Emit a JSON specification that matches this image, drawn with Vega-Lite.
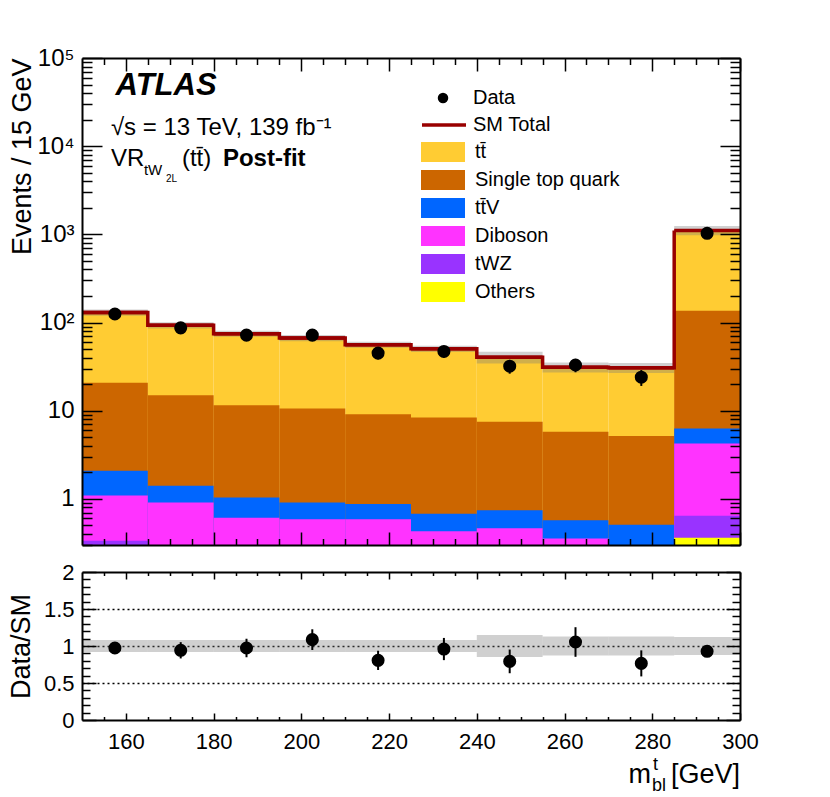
{
 "$schema": "https://vega.github.io/schema/vega-lite/v6.json",
 "background": "white",
 "padding": {"left": 7, "top": 46, "right": 5, "bottom": 2},
 "datasets": {
  "bins": [
   {"xlo": 150, "xhi": 165, "xc": 157.5, "total": 130, "smlo": 119.6, "smhi": 140.4, "data": 125, "derr": 11.2, "ratio": 0.973, "rerr": 0.08, "rlo": 0.92, "rhi": 1.08},
   {"xlo": 165, "xhi": 180, "xc": 172.5, "total": 93.3, "smlo": 85.8, "smhi": 100.8, "data": 87, "derr": 9.3, "ratio": 0.942, "rerr": 0.11, "rlo": 0.92, "rhi": 1.08},
   {"xlo": 180, "xhi": 195, "xc": 187.5, "total": 74.8, "smlo": 68.8, "smhi": 80.8, "data": 72, "derr": 8.5, "ratio": 0.973, "rerr": 0.125, "rlo": 0.92, "rhi": 1.08},
   {"xlo": 195, "xhi": 210, "xc": 202.5, "total": 66.9, "smlo": 61.5, "smhi": 72.3, "data": 72, "derr": 8.5, "ratio": 1.086, "rerr": 0.14, "rlo": 0.92, "rhi": 1.08},
   {"xlo": 210, "xhi": 225, "xc": 217.5, "total": 56.1, "smlo": 51.6, "smhi": 60.6, "data": 45, "derr": 6.7, "ratio": 0.806, "rerr": 0.13, "rlo": 0.92, "rhi": 1.08},
   {"xlo": 225, "xhi": 240, "xc": 232.5, "total": 50.4, "smlo": 46.4, "smhi": 54.4, "data": 47, "derr": 6.9, "ratio": 0.959, "rerr": 0.15, "rlo": 0.92, "rhi": 1.08},
   {"xlo": 240, "xhi": 255, "xc": 247.5, "total": 40.5, "smlo": 34.4, "smhi": 46.6, "data": 32, "derr": 5.7, "ratio": 0.792, "rerr": 0.16, "rlo": 0.85, "rhi": 1.15},
   {"xlo": 255, "xhi": 270, "xc": 262.5, "total": 31.2, "smlo": 27.1, "smhi": 35.3, "data": 33, "derr": 5.7, "ratio": 1.054, "rerr": 0.2, "rlo": 0.87, "rhi": 1.13},
   {"xlo": 270, "xhi": 285, "xc": 277.5, "total": 30.8, "smlo": 26.8, "smhi": 34.8, "data": 24, "derr": 4.9, "ratio": 0.765, "rerr": 0.176, "rlo": 0.87, "rhi": 1.13},
   {"xlo": 285, "xhi": 300, "xc": 292.5, "total": 1108, "smlo": 975, "smhi": 1241, "data": 1027, "derr": 32, "ratio": 0.928, "rerr": 0.03, "rlo": 0.88, "rhi": 1.12}
  ],
  "yields": [
   {"xlo": 150, "xhi": 165, "process": "Others", "k": 1, "n": 0.02},
   {"xlo": 150, "xhi": 165, "process": "tWZ", "k": 2, "n": 0.315},
   {"xlo": 150, "xhi": 165, "process": "Diboson", "k": 3, "n": 0.755},
   {"xlo": 150, "xhi": 165, "process": "tt\u0304V", "k": 4, "n": 1.0},
   {"xlo": 150, "xhi": 165, "process": "Single top quark", "k": 5, "n": 18.7},
   {"xlo": 150, "xhi": 165, "process": "tt\u0304", "k": 6, "n": 109.2},
   {"xlo": 165, "xhi": 180, "process": "Others", "k": 1, "n": 0.02},
   {"xlo": 165, "xhi": 180, "process": "tWZ", "k": 2, "n": 0.05},
   {"xlo": 165, "xhi": 180, "process": "Diboson", "k": 3, "n": 0.84},
   {"xlo": 165, "xhi": 180, "process": "tt\u0304V", "k": 4, "n": 0.5},
   {"xlo": 165, "xhi": 180, "process": "Single top quark", "k": 5, "n": 13.59},
   {"xlo": 165, "xhi": 180, "process": "tt\u0304", "k": 6, "n": 78.3},
   {"xlo": 180, "xhi": 195, "process": "Others", "k": 1, "n": 0.02},
   {"xlo": 180, "xhi": 195, "process": "tWZ", "k": 2, "n": 0.05},
   {"xlo": 180, "xhi": 195, "process": "Diboson", "k": 3, "n": 0.54},
   {"xlo": 180, "xhi": 195, "process": "tt\u0304V", "k": 4, "n": 0.43},
   {"xlo": 180, "xhi": 195, "process": "Single top quark", "k": 5, "n": 10.46},
   {"xlo": 180, "xhi": 195, "process": "tt\u0304", "k": 6, "n": 63.3},
   {"xlo": 195, "xhi": 210, "process": "Others", "k": 1, "n": 0.02},
   {"xlo": 195, "xhi": 210, "process": "tWZ", "k": 2, "n": 0.05},
   {"xlo": 195, "xhi": 210, "process": "Diboson", "k": 3, "n": 0.516},
   {"xlo": 195, "xhi": 210, "process": "tt\u0304V", "k": 4, "n": 0.324},
   {"xlo": 195, "xhi": 210, "process": "Single top quark", "k": 5, "n": 9.69},
   {"xlo": 195, "xhi": 210, "process": "tt\u0304", "k": 6, "n": 56.3},
   {"xlo": 210, "xhi": 225, "process": "Others", "k": 1, "n": 0.02},
   {"xlo": 210, "xhi": 225, "process": "tWZ", "k": 2, "n": 0.05},
   {"xlo": 210, "xhi": 225, "process": "Diboson", "k": 3, "n": 0.516},
   {"xlo": 210, "xhi": 225, "process": "tt\u0304V", "k": 4, "n": 0.291},
   {"xlo": 210, "xhi": 225, "process": "Single top quark", "k": 5, "n": 8.22},
   {"xlo": 210, "xhi": 225, "process": "tt\u0304", "k": 6, "n": 47.0},
   {"xlo": 225, "xhi": 240, "process": "Others", "k": 1, "n": 0.02},
   {"xlo": 225, "xhi": 240, "process": "tWZ", "k": 2, "n": 0.05},
   {"xlo": 225, "xhi": 240, "process": "Diboson", "k": 3, "n": 0.36},
   {"xlo": 225, "xhi": 240, "process": "tt\u0304V", "k": 4, "n": 0.25},
   {"xlo": 225, "xhi": 240, "process": "Single top quark", "k": 5, "n": 7.68},
   {"xlo": 225, "xhi": 240, "process": "tt\u0304", "k": 6, "n": 42.0},
   {"xlo": 240, "xhi": 255, "process": "Others", "k": 1, "n": 0.02},
   {"xlo": 240, "xhi": 255, "process": "tWZ", "k": 2, "n": 0.05},
   {"xlo": 240, "xhi": 255, "process": "Diboson", "k": 3, "n": 0.396},
   {"xlo": 240, "xhi": 255, "process": "tt\u0304V", "k": 4, "n": 0.277},
   {"xlo": 240, "xhi": 255, "process": "Single top quark", "k": 5, "n": 6.73},
   {"xlo": 240, "xhi": 255, "process": "tt\u0304", "k": 6, "n": 33.0},
   {"xlo": 255, "xhi": 270, "process": "Others", "k": 1, "n": 0.02},
   {"xlo": 255, "xhi": 270, "process": "tWZ", "k": 2, "n": 0.05},
   {"xlo": 255, "xhi": 270, "process": "Diboson", "k": 3, "n": 0.286},
   {"xlo": 255, "xhi": 270, "process": "tt\u0304V", "k": 4, "n": 0.215},
   {"xlo": 255, "xhi": 270, "process": "Single top quark", "k": 5, "n": 5.21},
   {"xlo": 255, "xhi": 270, "process": "tt\u0304", "k": 6, "n": 25.4},
   {"xlo": 270, "xhi": 285, "process": "Others", "k": 1, "n": 0.02},
   {"xlo": 270, "xhi": 285, "process": "tWZ", "k": 2, "n": 0.05},
   {"xlo": 270, "xhi": 285, "process": "Diboson", "k": 3, "n": 0.15},
   {"xlo": 270, "xhi": 285, "process": "tt\u0304V", "k": 4, "n": 0.289},
   {"xlo": 270, "xhi": 285, "process": "Single top quark", "k": 5, "n": 4.66},
   {"xlo": 270, "xhi": 285, "process": "tt\u0304", "k": 6, "n": 25.6},
   {"xlo": 285, "xhi": 300, "process": "Others", "k": 1, "n": 0.362},
   {"xlo": 285, "xhi": 300, "process": "tWZ", "k": 2, "n": 0.284},
   {"xlo": 285, "xhi": 300, "process": "Diboson", "k": 3, "n": 3.6},
   {"xlo": 285, "xhi": 300, "process": "tt\u0304V", "k": 4, "n": 2.05},
   {"xlo": 285, "xhi": 300, "process": "Single top quark", "k": 5, "n": 129.7},
   {"xlo": 285, "xhi": 300, "process": "tt\u0304", "k": 6, "n": 972}
  ]
 },
 "spacing": 15,
 "vconcat": [
  {
   "width": 658,
   "height": 487,
   "resolve": {"axis": {"x": "independent", "y": "independent"}},
   "layer": [
    {
     "data": {"name": "yields"},
     "transform": [{"stack": "n", "groupby": ["xlo"], "sort": [{"field": "k", "order": "ascending"}], "as": ["s0", "s1"]}],
     "mark": {"type": "bar", "opacity": 1, "clip": true},
     "encoding": {
      "x": {"field": "xlo", "type": "quantitative", "scale": {"domain": [150, 300], "nice": false, "zero": false},
       "axis": {"orient": "bottom", "values": [160, 180, 200, 220, 240, 260, 280, 300], "labels": false, "tickSize": -13, "domain": true, "title": null, "zindex": 1}},
      "x2": {"field": "xhi"},
      "y": {"field": "s1", "type": "quantitative", "stack": null, "scale": {"type": "log", "domain": [0.3, 100000], "nice": false},
       "axis": {"orient": "left", "values": [1, 10, 100, 1000, 10000, 100000], "ticks": false, "domain": false,
        "labelExpr": "datum.value > 99999 ? '10\u2075' : datum.value > 9999 ? '10\u2074' : datum.value > 999 ? '10\u00b3' : datum.value > 99 ? '10\u00b2' : datum.value > 9 ? '10' : '1'",
        "labelFontSize": 24, "labelPadding": 8, "title": "Events / 15 GeV", "titleFontSize": 27, "titleAnchor": "end", "titlePadding": 0, "zindex": 1}},
      "y2": {"datum": 0.3},
      "color": {"field": "process", "type": "nominal",
       "scale": {"domain": ["tt\u0304", "Single top quark", "tt\u0304V", "Diboson", "tWZ", "Others"],
        "range": ["#ffcc33", "#cc6600", "#0066ff", "#ff33ff", "#9933ff", "#ffff00"]},
       "legend": {"title": null, "orient": "none", "legendX": 339, "legendY": 83, "direction": "vertical",
        "symbolType": "M-1,-0.9H3V0.9H-1Z", "symbolSize": 484, "symbolStrokeWidth": 0, "symbolOpacity": 1,
        "labelFontSize": 20, "labelColor": "black", "labelOffset": 32, "rowPadding": 7, "labelLimit": 300}},
      "order": {"field": "k", "sort": "descending"}
     }
    },
    {
     "data": {"name": "bins"},
     "mark": {"type": "rect", "color": "#777777", "opacity": 0.35},
     "encoding": {
      "x": {"field": "xlo", "type": "quantitative", "scale": {"domain": [150, 300], "nice": false, "zero": false},
       "axis": {"orient": "bottom", "values": [155, 165, 170, 175, 185, 190, 195, 205, 210, 215, 225, 230, 235, 245, 250, 255, 265, 270, 275, 285, 290, 295], "labels": false, "tickSize": -6.5, "domain": false, "title": null, "zindex": 1}},
      "x2": {"field": "xhi"},
      "y": {"field": "smlo", "type": "quantitative", "scale": {"type": "log", "domain": [0.3, 100000], "nice": false},
       "axis": {"orient": "left", "values": [1, 10, 100, 1000, 10000, 100000], "labels": false, "tickSize": -20, "domain": true, "title": null, "zindex": 1}},
      "y2": {"field": "smhi"}
     }
    },
    {
     "data": {"name": "bins"},
     "mark": {"type": "rule", "color": "#990000", "strokeWidth": 3.5},
     "encoding": {
      "x": {"field": "xlo", "type": "quantitative", "scale": {"domain": [150, 300], "nice": false, "zero": false},
       "axis": {"orient": "top", "values": [160, 180, 200, 220, 240, 260, 280, 300], "labels": false, "tickSize": -13, "domain": true, "title": null, "zindex": 1}},
      "x2": {"field": "xhi"},
      "y": {"field": "total", "type": "quantitative", "scale": {"type": "log", "domain": [0.3, 100000], "nice": false},
       "axis": {"orient": "right", "values": [1, 10, 100, 1000, 10000, 100000], "labels": false, "tickSize": -20, "domain": true, "title": null, "zindex": 1}}
     }
    },
    {
     "data": {"name": "bins"},
     "mark": {"type": "line", "strokeWidth": 3.5, "interpolate": "step-after"},
     "encoding": {
      "x": {"field": "xlo", "type": "quantitative", "scale": {"domain": [150, 300], "nice": false, "zero": false},
       "axis": {"orient": "top", "values": [155, 165, 170, 175, 185, 190, 195, 205, 210, 215, 225, 230, 235, 245, 250, 255, 265, 270, 275, 285, 290, 295], "labels": false, "tickSize": -6.5, "domain": false, "title": null, "zindex": 1}},
      "y": {"field": "total", "type": "quantitative", "scale": {"type": "log", "domain": [0.3, 100000], "nice": false},
       "axis": {"orient": "right", "values": [0.3, 0.4, 0.5, 0.6, 0.7, 0.8, 0.9, 2, 3, 4, 5, 6, 7, 8, 9, 20, 30, 40, 50, 60, 70, 80, 90, 200, 300, 400, 500, 600, 700, 800, 900, 2000, 3000, 4000, 5000, 6000, 7000, 8000, 9000, 20000, 30000, 40000, 50000, 60000, 70000, 80000, 90000], "labels": false, "tickSize": -10, "domain": false, "title": null, "zindex": 1}},
      "stroke": {"datum": "SM Total", "type": "nominal", "scale": {"domain": ["SM Total"], "range": ["#990000"]},
       "legend": {"title": null, "orient": "none", "legendX": 338, "legendY": 43, "symbolType": "stroke", "symbolSize": 1936, "symbolStrokeWidth": 3.5, "labelFontSize": 20, "labelColor": "black", "labelOffset": 5}}
     }
    },
    {
     "data": {"name": "bins"},
     "mark": {"type": "errorbar", "color": "black", "thickness": 2},
     "encoding": {
      "x": {"field": "xc", "type": "quantitative", "scale": {"domain": [150, 300], "nice": false, "zero": false}, "axis": null},
      "y": {"field": "data", "type": "quantitative", "scale": {"type": "log", "domain": [0.3, 100000], "nice": false},
       "axis": {"orient": "left", "values": [0.3, 0.4, 0.5, 0.6, 0.7, 0.8, 0.9, 2, 3, 4, 5, 6, 7, 8, 9, 20, 30, 40, 50, 60, 70, 80, 90, 200, 300, 400, 500, 600, 700, 800, 900, 2000, 3000, 4000, 5000, 6000, 7000, 8000, 9000, 20000, 30000, 40000, 50000, 60000, 70000, 80000, 90000], "labels": false, "tickSize": -10, "domain": false, "title": null, "zindex": 1}},
      "yError": {"field": "derr"}
     }
    },
    {
     "data": {"name": "bins"},
     "mark": {"type": "point", "filled": true, "size": 170, "color": "black", "opacity": 1},
     "encoding": {
      "x": {"field": "xc", "type": "quantitative", "axis": null},
      "y": {"field": "data", "type": "quantitative", "axis": null},
      "shape": {"datum": "Data", "type": "nominal", "scale": {"domain": ["Data"], "range": ["circle"]},
       "legend": {"title": null, "orient": "none", "legendX": 351, "legendY": 30, "symbolSize": 110, "symbolFillColor": "black", "symbolStrokeColor": "black", "labelFontSize": 20, "labelColor": "black", "labelOffset": 20}}
     }
    },
    {
     "data": {"values": [{}]},
     "mark": {"type": "text", "text": "ATLAS", "fontSize": 31, "fontWeight": "bold", "fontStyle": "italic", "align": "left", "baseline": "alphabetic", "color": "black"},
     "encoding": {"x": {"datum": 157.65, "type": "quantitative", "axis": null}, "y": {"datum": 37950, "type": "quantitative", "axis": null}}
    },
    {
     "data": {"values": [{}]},
     "mark": {"type": "text", "text": "\u221as = 13 TeV, 139 fb\u207b\u00b9", "fontSize": 24, "align": "left", "baseline": "alphabetic", "color": "black"},
     "encoding": {"x": {"datum": 156.6, "type": "quantitative", "axis": null}, "y": {"datum": 13490, "type": "quantitative", "axis": null}}
    },
    {
     "data": {"values": [{}]},
     "mark": {"type": "text", "text": "VR", "fontSize": 24, "align": "left", "baseline": "alphabetic", "color": "black"},
     "encoding": {"x": {"datum": 156.6, "type": "quantitative", "axis": null}, "y": {"datum": 6016, "type": "quantitative", "axis": null}}
    },
    {
     "data": {"values": [{}]},
     "mark": {"type": "text", "text": "tW", "fontSize": 15, "align": "left", "baseline": "alphabetic", "dx": 33, "dy": 9, "color": "black"},
     "encoding": {"x": {"datum": 156.6, "type": "quantitative", "axis": null}, "y": {"datum": 6016, "type": "quantitative", "axis": null}}
    },
    {
     "data": {"values": [{}]},
     "mark": {"type": "text", "text": "2L", "fontSize": 10, "align": "left", "baseline": "alphabetic", "dx": 55, "dy": 16, "color": "black"},
     "encoding": {"x": {"datum": 156.6, "type": "quantitative", "axis": null}, "y": {"datum": 6016, "type": "quantitative", "axis": null}}
    },
    {
     "data": {"values": [{}]},
     "mark": {"type": "text", "text": "(tt\u0304)", "fontSize": 24, "align": "left", "baseline": "alphabetic", "dx": 71, "color": "black"},
     "encoding": {"x": {"datum": 156.6, "type": "quantitative", "axis": null}, "y": {"datum": 6016, "type": "quantitative", "axis": null}}
    },
    {
     "data": {"values": [{}]},
     "mark": {"type": "text", "text": "Post-fit", "fontSize": 24, "fontWeight": "bold", "align": "left", "baseline": "alphabetic", "dx": 112, "color": "black"},
     "encoding": {"x": {"datum": 156.6, "type": "quantitative", "axis": null}, "y": {"datum": 6016, "type": "quantitative", "axis": null}}
    }
   ]
  },
  {
   "width": 658,
   "height": 148,
   "resolve": {"axis": {"x": "independent", "y": "independent"}},
   "layer": [
    {
     "data": {"name": "bins"},
     "mark": {"type": "rect", "color": "#777777", "opacity": 0.35},
     "encoding": {
      "x": {"field": "xlo", "type": "quantitative", "scale": {"domain": [150, 300], "nice": false, "zero": false},
       "axis": {"orient": "bottom", "values": [160, 180, 200, 220, 240, 260, 280, 300], "ticks": false, "domain": false, "labelFontSize": 22, "labelPadding": 11, "title": null, "zindex": 1}},
      "x2": {"field": "xhi"},
      "y": {"field": "rlo", "type": "quantitative", "scale": {"domain": [0, 2], "nice": false, "zero": false},
       "axis": {"orient": "left", "values": [0, 0.5, 1, 1.5, 2], "format": "~g", "ticks": false, "domain": false, "labelFontSize": 22, "labelPadding": 8, "title": "Data/SM", "titleFontSize": 27, "titleAnchor": "middle", "titlePadding": 8, "zindex": 1}},
      "y2": {"field": "rhi"}
     }
    },
    {
     "data": {"name": "bins"},
     "mark": {"type": "errorbar", "color": "black", "thickness": 2},
     "encoding": {
      "x": {"field": "xc", "type": "quantitative", "scale": {"domain": [150, 300], "nice": false, "zero": false},
       "axis": {"orient": "bottom", "values": [160, 180, 200, 220, 240, 260, 280, 300], "labels": false, "tickSize": -7, "domain": true, "title": null, "zindex": 1}},
      "y": {"field": "ratio", "type": "quantitative", "scale": {"domain": [0, 2], "nice": false, "zero": false},
       "axis": {"orient": "left", "values": [0, 0.5, 1, 1.5, 2], "labels": false, "tickSize": -14, "domain": true, "title": null, "zindex": 1}},
      "yError": {"field": "rerr"}
     }
    },
    {
     "data": {"name": "bins"},
     "mark": {"type": "point", "filled": true, "shape": "circle", "size": 170, "color": "black", "opacity": 1},
     "encoding": {
      "x": {"field": "xc", "type": "quantitative",
       "axis": {"orient": "bottom", "values": [155, 165, 170, 175, 185, 190, 195, 205, 210, 215, 225, 230, 235, 245, 250, 255, 265, 270, 275, 285, 290, 295], "labels": false, "tickSize": -3.5, "domain": false, "title": null, "zindex": 1}},
      "y": {"field": "ratio", "type": "quantitative",
       "axis": {"orient": "left", "values": [0.1, 0.2, 0.3, 0.4, 0.6, 0.7, 0.8, 0.9, 1.1, 1.2, 1.3, 1.4, 1.6, 1.7, 1.8, 1.9], "labels": false, "tickSize": -8, "domain": false, "title": null, "zindex": 1}}
     }
    },
    {
     "data": {"values": [{}]},
     "mark": {"type": "text", "text": "[GeV]", "fontSize": 27, "align": "right", "baseline": "alphabetic", "color": "black"},
     "encoding": {
      "x": {"datum": 300, "type": "quantitative",
       "axis": {"orient": "top", "values": [160, 180, 200, 220, 240, 260, 280, 300], "labels": false, "tickSize": -7, "domain": true, "title": null, "zindex": 1}},
      "y": {"datum": -0.845, "type": "quantitative",
       "axis": {"orient": "right", "values": [0, 0.5, 1, 1.5, 2], "labels": false, "tickSize": -14, "domain": true, "title": null, "zindex": 1}}
     }
    },
    {
     "data": {"values": [{}]},
     "mark": {"type": "text", "text": "m", "fontSize": 27, "align": "right", "baseline": "alphabetic", "dx": -89, "color": "black"},
     "encoding": {
      "x": {"datum": 300, "type": "quantitative",
       "axis": {"orient": "top", "values": [155, 165, 170, 175, 185, 190, 195, 205, 210, 215, 225, 230, 235, 245, 250, 255, 265, 270, 275, 285, 290, 295], "labels": false, "tickSize": -3.5, "domain": false, "title": null, "zindex": 1}},
      "y": {"datum": -0.845, "type": "quantitative",
       "axis": {"orient": "right", "values": [0.1, 0.2, 0.3, 0.4, 0.6, 0.7, 0.8, 0.9, 1.1, 1.2, 1.3, 1.4, 1.6, 1.7, 1.8, 1.9], "labels": false, "tickSize": -8, "domain": false, "title": null, "zindex": 1}}
     }
    },
    {
     "data": {"values": [{}]},
     "mark": {"type": "text", "text": "bl", "fontSize": 18, "align": "left", "baseline": "alphabetic", "dx": -88, "color": "black"},
     "encoding": {
      "x": {"datum": 300, "type": "quantitative", "axis": null},
      "y": {"datum": -0.957, "type": "quantitative",
       "axis": {"orient": "left", "values": [0.5, 1, 1.5], "grid": true, "gridDash": [2, 3], "gridColor": "black", "gridWidth": 1.5, "ticks": false, "labels": false, "domain": false, "title": null, "zindex": 0}}
     }
    },
    {
     "data": {"values": [{}]},
     "mark": {"type": "text", "text": "t", "fontSize": 18, "align": "left", "baseline": "alphabetic", "dx": -87, "color": "black"},
     "encoding": {"x": {"datum": 300, "type": "quantitative", "axis": null}, "y": {"datum": -0.669, "type": "quantitative", "axis": null}}
    }
   ]
  }
 ],
 "config": {
  "font": "Liberation Sans",
  "view": {"stroke": null},
  "axis": {"grid": false, "labelColor": "black", "titleColor": "black", "tickColor": "black", "domainColor": "black", "domainWidth": 2, "tickWidth": 1.5, "labelFlush": false, "labelOverlap": false, "titleFontWeight": "normal"},
  "legend": {"labelFont": "Liberation Sans"}
 }
}
